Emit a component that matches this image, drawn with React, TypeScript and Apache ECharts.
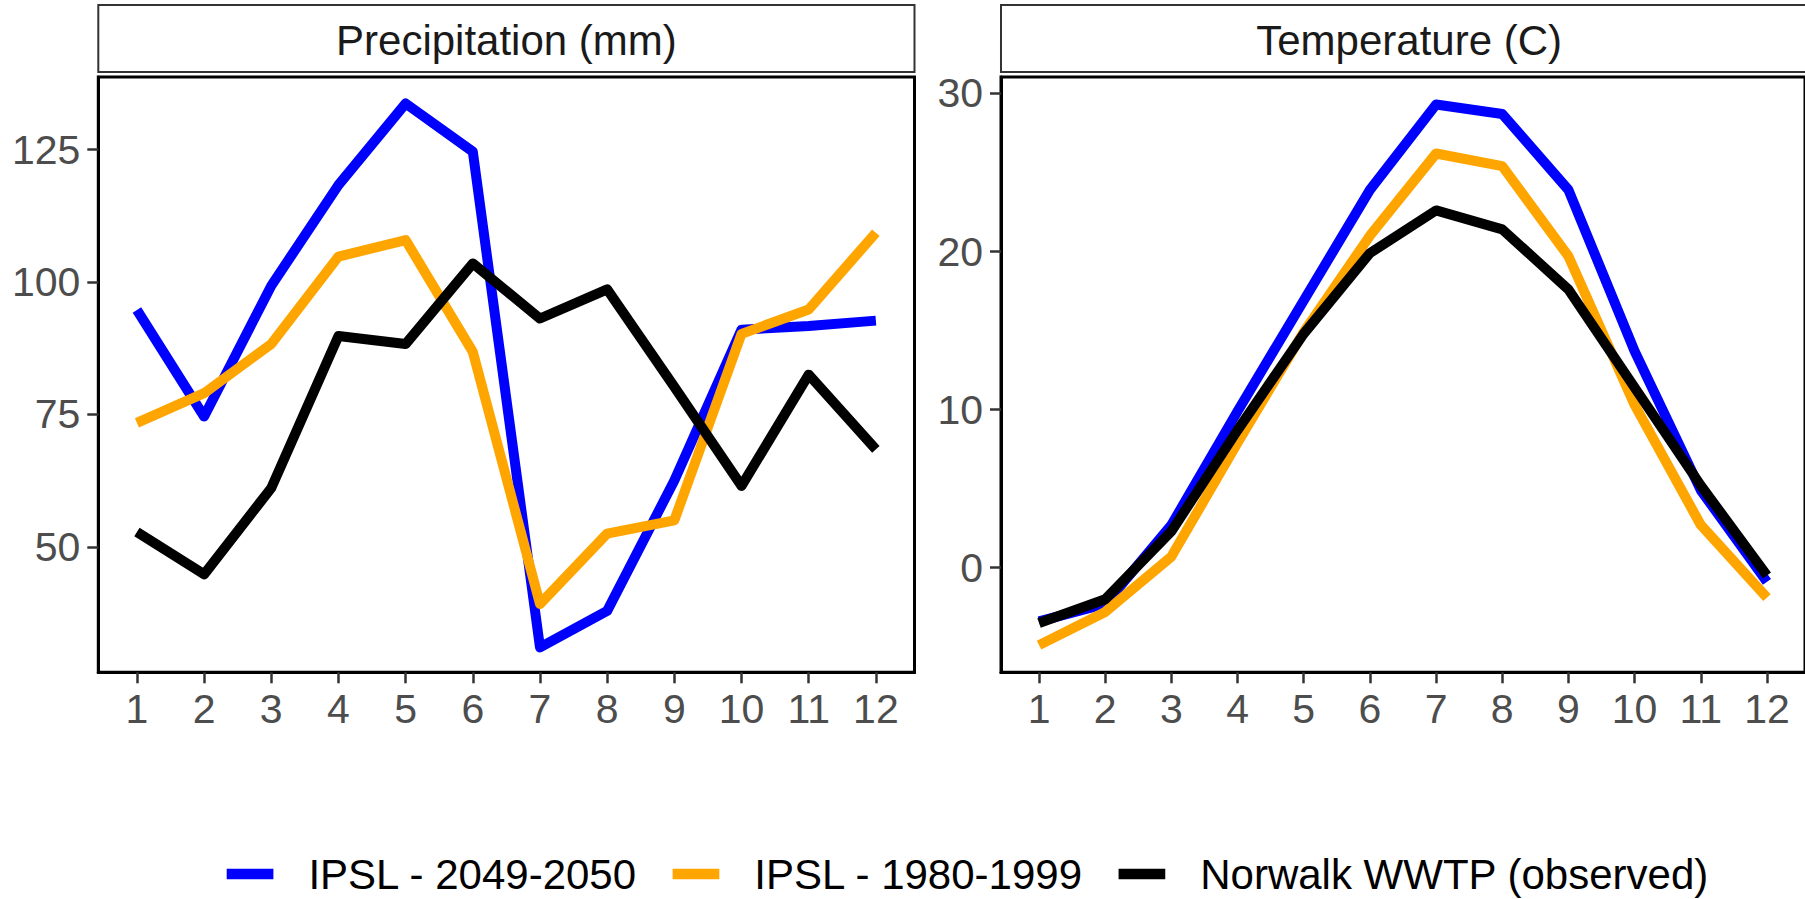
import React, { useEffect, useRef } from "react";
import * as echarts from "echarts";

const months = [1, 2, 3, 4, 5, 6, 7, 8, 9, 10, 11, 12];

const seriesNames = ["IPSL - 2049-2050", "IPSL - 1980-1999", "Norwalk WWTP (observed)"];
const seriesColors = ["#0000FF", "#FFA500", "#000000"];
const panelTitles = ["Precipitation (mm)", "Temperature (C)"];

// Precipitation (mm)
const precipFuture = [94.7, 74.6, 99.3, 118.3, 133.7, 124.6, 31.0, 37.9, 62.5, 91.0, 91.7, 92.7];
const precipHistoric = [73.4, 79.0, 88.3, 104.8, 107.9, 86.8, 39.2, 52.5, 55.0, 90.2, 94.8, 109.3];
const precipObserved = [52.8, 44.8, 61.1, 89.8, 88.3, 103.5, 93.1, 98.6, 80.2, 61.5, 82.5, 68.4];

// Temperature (C)
const tempFuture = [-3.4, -2.3, 2.7, 9.9, 16.9, 23.9, 29.3, 28.7, 23.9, 13.7, 4.9, -0.9];
const tempHistoric = [-4.9, -2.8, 0.7, 7.9, 14.9, 21.0, 26.2, 25.4, 19.7, 10.3, 2.7, -1.9];
const tempObserved = [-3.5, -2.0, 2.3, 8.7, 14.8, 19.9, 22.6, 21.4, 17.6, 11.4, 5.2, -0.5];

const precipTicks = [50, 75, 100, 125];
const tempTicks = [0, 10, 20, 30];

const FONT = "'Liberation Sans', Arial, Helvetica, sans-serif";

const panelLeft = [98.3, 1001];
const panelWidth = 816.2;
const panelTop = 77;
const panelHeight = 595.3;
const yRanges = [
  [26.3, 138.7],
  [-6.62, 31.04],
];
const yTicksList = [precipTicks, tempTicks];
const panelData = [
  [precipFuture, precipHistoric, precipObserved],
  [tempFuture, tempHistoric, tempObserved],
];

function buildOption() {
  const grid = panelLeft.map((left) => ({
    left,
    top: panelTop,
    width: panelWidth,
    height: panelHeight,
    show: true,
    borderColor: "#000",
    borderWidth: 3,
    backgroundColor: "transparent",
    containLabel: false,
  }));

  const xAxis = panelLeft.map((_, i) => ({
    type: "value",
    gridIndex: i,
    min: 0.425,
    max: 12.575,
    axisLine: { show: true, onZero: false, lineStyle: { color: "#000", width: 3 } },
    splitLine: { show: false },
    axisTick: {
      show: true,
      length: 11,
      customValues: months,
      lineStyle: { color: "#333333", width: 2.5 },
    },
    axisLabel: {
      show: true,
      customValues: months,
      fontSize: 41,
      color: "#4d4d4d",
      fontFamily: FONT,
      margin: 16,
    },
  }));

  const yAxis = panelLeft.map((_, i) => ({
    type: "value",
    gridIndex: i,
    min: yRanges[i][0],
    max: yRanges[i][1],
    axisLine: { show: true, onZero: false, lineStyle: { color: "#000", width: 3 } },
    splitLine: { show: false },
    axisTick: {
      show: true,
      length: 11,
      customValues: yTicksList[i],
      lineStyle: { color: "#333333", width: 2.5 },
    },
    axisLabel: {
      show: true,
      customValues: yTicksList[i],
      fontSize: 41,
      color: "#4d4d4d",
      fontFamily: FONT,
      margin: 18,
    },
  }));

  const series: any[] = [];
  panelData.forEach((group, p) => {
    group.forEach((values, s) => {
      series.push({
        type: "line",
        name: seriesNames[s],
        xAxisIndex: p,
        yAxisIndex: p,
        data: months.map((m, k) => [m, values[k]]),
        symbol: "none",
        showSymbol: false,
        color: seriesColors[s],
        lineStyle: { color: seriesColors[s], width: 10, join: "round", cap: "butt" },
        z: 2 + s,
        silent: true,
      });
    });
  });

  const graphic: any[] = [];
  panelLeft.forEach((left, i) => {
    graphic.push({
      type: "rect",
      shape: { x: left, y: 5, width: panelWidth, height: 67 },
      style: { fill: "#ffffff", stroke: "#333333", lineWidth: 2 },
      silent: true,
    });
    graphic.push({
      type: "text",
      x: left + panelWidth / 2,
      y: 40,
      style: {
        text: panelTitles[i],
        fontSize: 42,
        fontFamily: FONT,
        fill: "#1a1a1a",
        align: "center",
        verticalAlign: "middle",
        textAlign: "center",
        textVerticalAlign: "middle",
      },
      silent: true,
    });
  });

  return {
    animation: false,
    backgroundColor: "#ffffff",
    grid,
    xAxis,
    yAxis,
    series,
    graphic,
    legend: {
      show: true,
      data: seriesNames,
      left: 226.7,
      top: 853,
      orient: "horizontal",
      icon: "rect",
      itemWidth: 46.7,
      itemHeight: 10.7,
      itemGap: 35,
      padding: 0,
      selectedMode: false,
      textStyle: {
        fontSize: 42,
        color: "#000000",
        fontFamily: FONT,
        padding: [0, 0, 0, 30],
      },
    },
  };
}

export default function App() {
  const ref = useRef<HTMLDivElement>(null);
  useEffect(() => {
    if (!ref.current) return;
    const chart = echarts.init(ref.current, null, { renderer: "svg" });
    chart.setOption(buildOption() as any);
    return () => {
      chart.dispose();
    };
  }, []);
  return (
    <div
      ref={ref}
      style={{
        position: "fixed",
        left: 0,
        top: 0,
        width: 1805,
        height: 899,
        background: "#ffffff",
        overflow: "hidden",
      }}
    />
  );
}
